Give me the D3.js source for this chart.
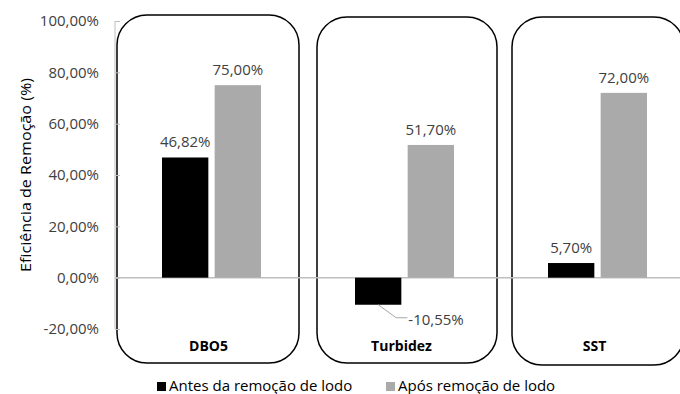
<!DOCTYPE html>
<html><head><meta charset="utf-8">
<script src="https://cdn.jsdelivr.net/npm/d3@7"></script>
<style>body{margin:0;background:#fff}svg{display:block}text{font-family:"Open Sans",sans-serif}</style>
</head><body><div id="c"></div>
<script>
const categories = ["DBO5", "Turbidez", "SST"];
const seriesNames = ["Antes da remoção de lodo", "Após remoção de lodo"];
const antes = [46.82, -10.55, 5.70];
const apos = [75.00, 51.70, 72.00];
const yTicks = [-20, 0, 20, 40, 60, 80, 100];
const colors = ["#000000", "#aaaaaa"];

const W = 680, H = 394;
const svg = d3.select("#c").append("svg").attr("width", W).attr("height", H);
const fmt = v => d3.format(".2f")(v).replace(".", ",").replace("\u2212", "-") + "%";

const x = d3.scaleBand().domain(categories).range([115, 694]);
const inner = d3.scaleBand().domain([0, 1]).range([0, 99]).paddingInner(0.12);
const y = d3.scaleLinear().domain([-20, 100]).range([329, 21]);

// rounded boxes
const boxes = [[117, 15, 182, 348], [317, 17, 180, 346], [512, 17, 172, 348]];
svg.selectAll("rect.box").data(boxes).enter().append("rect").attr("class", "box")
  .attr("x", d => d[0]).attr("y", d => d[1]).attr("width", d => d[2]).attr("height", d => d[3])
  .attr("rx", 30).attr("ry", 30).attr("fill", "none").attr("stroke", "#000").attr("stroke-width", 1.5);

// y axis
const yAxis = d3.axisLeft(y).tickValues(yTicks).tickFormat(fmt).tickSize(-5).tickPadding(16);
const ga = svg.append("g").attr("transform", "translate(115,0)").call(yAxis);
ga.select(".domain").attr("stroke", "#bfbfbf").attr("d", "M0,21V329");
ga.selectAll(".tick line").attr("stroke", "#bfbfbf");
ga.selectAll(".tick text").attr("fill", "#404040").style("font-size", "15px").style("font-family", "Open Sans");

// zero line
svg.append("line").attr("x1", 115).attr("x2", W).attr("y1", y(0)).attr("y2", y(0))
  .attr("stroke", "#bfbfbf").attr("stroke-width", 1.5);

const rows = categories.map((c, i) => ({c, vals: [antes[i], apos[i]]}));
const groups = svg.selectAll("g.cat").data(rows).enter().append("g")
  .attr("transform", d => `translate(${x(d.c) + (x.bandwidth() - 99) / 2},0)`);

groups.selectAll("rect").data(d => d.vals.map((v, k) => ({v, k}))).enter().append("rect")
  .attr("x", d => inner(d.k)).attr("width", inner.bandwidth())
  .attr("y", d => y(Math.max(0, d.v))).attr("height", d => Math.abs(y(d.v) - y(0)))
  .attr("fill", d => colors[d.k]);

groups.selectAll("text.val").data(d => d.vals.map((v, k) => ({v, k}))).enter().append("text")
  .attr("class", "val")
  .attr("x", d => d.v < 0 ? inner(d.k) + inner.bandwidth() + 7 : inner(d.k) + inner.bandwidth() / 2)
  .attr("y", d => d.v < 0 ? y(d.v) + 20 : y(d.v) - 10)
  .attr("text-anchor", d => d.v < 0 ? "start" : "middle")
  .attr("fill", "#404040").style("font-size", "15px")
  .text(d => fmt(d.v));

// leader line for negative
groups.each(function(d) {
  d.vals.forEach((v, k) => {
    if (v < 0) {
      const x0 = inner(k) + inner.bandwidth() / 2, y0 = y(v);
      d3.select(this).append("path")
        .attr("d", `M${x0},${y0}L${x0 + 18},${y0 + 13}L${inner(k) + inner.bandwidth() + 6},${y0 + 13}`)
        .attr("fill", "none").attr("stroke", "#a6a6a6").attr("stroke-width", 1);
    }
  });
});

// category labels
svg.selectAll("text.cat").data(categories).enter().append("text")
  .attr("x", d => x(d) + x.bandwidth() / 2 - 3).attr("y", 351).attr("text-anchor", "middle")
  .attr("fill", "#000").style("font-size", "14px").style("font-weight", "bold").text(d => d);

// y title
svg.append("text").attr("transform", "translate(31,175) rotate(-90)").attr("text-anchor", "middle")
  .attr("fill", "#000").style("font-size", "15px").attr("textLength", 194).attr("lengthAdjust", "spacingAndGlyphs")
  .text("Eficiência de Remoção (%)");

// legend
const leg = [[157, 0], [386, 1]];
leg.forEach(([lx, k]) => {
  svg.append("rect").attr("x", lx).attr("y", 382).attr("width", 9).attr("height", 9).attr("fill", colors[k]);
  svg.append("text").attr("x", lx + 12).attr("y", 391).attr("fill", "#000").style("font-size", "15px").text(seriesNames[k]);
});
</script></body></html>
